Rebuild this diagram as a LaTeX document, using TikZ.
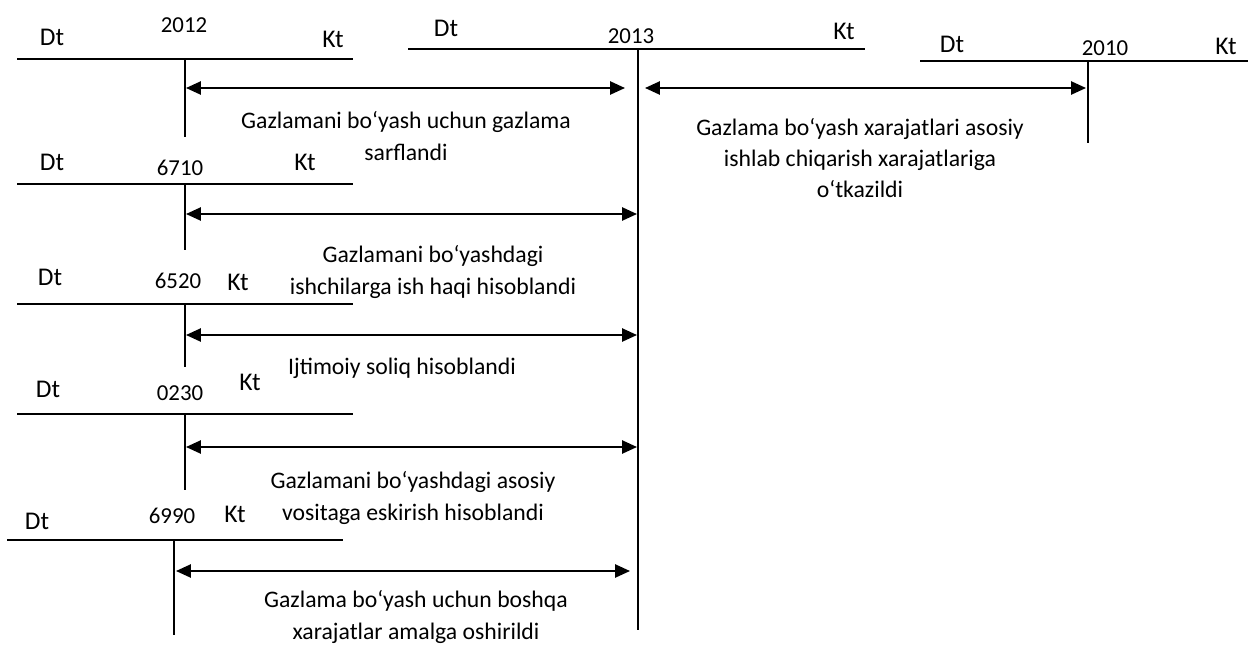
\documentclass[tikz,border=0pt]{standalone}
\usepackage{fontspec}
\setmainfont{Carlito}
\usepackage{tikz}
\usetikzlibrary{arrows.meta, positioning}

\tikzset{
  acc/.style={line width=1pt},
  op/.style={line width=1.1pt, {Triangle[length=8.5pt,width=7.5pt]}-{Triangle[length=8.5pt,width=7.5pt]}},
  side/.style={font=\fontsize{14.5}{16}\selectfont, inner sep=0pt},
  num/.style={font=\fontsize{13}{15}\selectfont, inner sep=0pt},
  txt/.style={font=\fontsize{13.5}{17.8}\selectfont, align=center, inner sep=0pt},
}

\begin{document}
\begin{tikzpicture}[x=0.02cm, y=-0.02cm]
\useasboundingbox (0,0) rectangle (1248,646);

% account 2012
\node[side] at (52,37) (dt2012) {Dt};
\node[num] at (184,25) (n2012) {2012};
\node[side] at (333,39) (kt2012) {Kt};
\coordinate (l2012) at (17,59);
\coordinate (r2012) at (353,59);
\coordinate (t2012) at (185,59);
\coordinate (b2012) at (185,137);
\draw[acc] (l2012) -- (r2012);
\draw[acc] (t2012) -- (b2012);

% account 2013
\node[side] at (446,28) (dt2013) {Dt};
\node[num] at (631,36) (n2013) {2013};
\node[side] at (844,31) (kt2013) {Kt};
\coordinate (l2013) at (408,49);
\coordinate (r2013) at (865,49);
\coordinate (t2013) at (638,49);
\coordinate (b2013) at (638,630);
\draw[acc] (l2013) -- (r2013);
\draw[acc] (t2013) -- (b2013);

% account 2010
\node[side] at (952,44) (dt2010) {Dt};
\node[num] at (1105,48) (n2010) {2010};
\node[side] at (1226,46) (kt2010) {Kt};
\coordinate (l2010) at (920,61);
\coordinate (r2010) at (1248,61);
\coordinate (t2010) at (1088,61);
\coordinate (b2010) at (1088,143);
\draw[acc] (l2010) -- (r2010);
\draw[acc] (t2010) -- (b2010);

% account 6710
\node[side] at (52,162) (dt6710) {Dt};
\node[num] at (180,168) (n6710) {6710};
\node[side] at (305,162) (kt6710) {Kt};
\coordinate (l6710) at (17,184);
\coordinate (r6710) at (353,184);
\coordinate (t6710) at (185,184);
\coordinate (b6710) at (185,250);
\draw[acc] (l6710) -- (r6710);
\draw[acc] (t6710) -- (b6710);

% account 6520
\node[side] at (50,277) (dt6520) {Dt};
\node[num] at (178,281) (n6520) {6520};
\node[side] at (238,282) (kt6520) {Kt};
\coordinate (l6520) at (17,304);
\coordinate (r6520) at (353,304);
\coordinate (t6520) at (185,304);
\coordinate (b6520) at (185,367);
\draw[acc] (l6520) -- (r6520);
\draw[acc] (t6520) -- (b6520);

% account 0230
\node[side] at (48,389) (dt0230) {Dt};
\node[num] at (180,393) (n0230) {0230};
\node[side] at (250,382) (kt0230) {Kt};
\coordinate (l0230) at (17,414);
\coordinate (r0230) at (353,414);
\coordinate (t0230) at (185,414);
\coordinate (b0230) at (185,490);
\draw[acc] (l0230) -- (r0230);
\draw[acc] (t0230) -- (b0230);

% account 6990
\node[side] at (37,521) (dt6990) {Dt};
\node[num] at (172,516) (n6990) {6990};
\node[side] at (235,514) (kt6990) {Kt};
\coordinate (l6990) at (7,540);
\coordinate (r6990) at (343,540);
\coordinate (t6990) at (174,540);
\coordinate (b6990) at (174,635);
\draw[acc] (l6990) -- (r6990);
\draw[acc] (t6990) -- (b6990);

% operations
\coordinate (s1) at (186,88);
\coordinate (e1) at (625,88);
\draw[op] (s1) -- (e1);
\node[txt] at (406,136) (op1) {Gazlamani bo‘yash uchun gazlama\\sarflandi};

\coordinate (s2) at (645,88);
\coordinate (e2) at (1086,88);
\draw[op] (s2) -- (e2);
\node[txt] at (860,158) (op2) {Gazlama bo‘yash xarajatlari asosiy\\ishlab chiqarish xarajatlariga\\o‘tkazildi};

\coordinate (s3) at (186,214);
\coordinate (e3) at (637,214);
\draw[op] (s3) -- (e3);
\node[txt] at (433,272) (op3) {Gazlamani bo‘yashdagi\\ishchilarga ish haqi hisoblandi};

\coordinate (s4) at (186,335);
\coordinate (e4) at (637,335);
\draw[op] (s4) -- (e4);
\node[txt] at (402,368) (op4) {Ijtimoiy soliq hisoblandi};

\coordinate (s5) at (186,447);
\coordinate (e5) at (637,447);
\draw[op] (s5) -- (e5);
\node[txt] at (413,498) (op5) {Gazlamani bo‘yashdagi asosiy\\vositaga eskirish hisoblandi};

\coordinate (s6) at (176,571);
\coordinate (e6) at (630,571);
\draw[op] (s6) -- (e6);
\node[txt] at (416,617) (op6) {Gazlama bo‘yash uchun boshqa\\xarajatlar amalga oshirildi};
\end{tikzpicture}
\end{document}
